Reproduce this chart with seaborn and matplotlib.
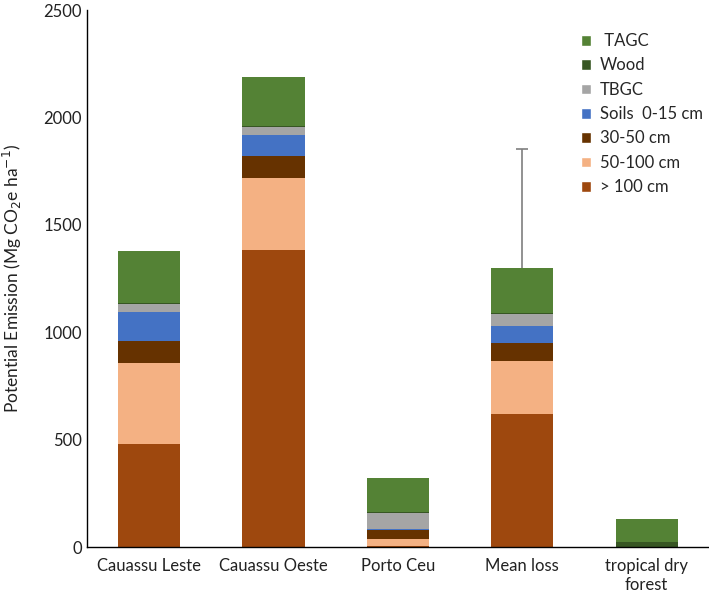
import numpy as np
import pandas as pd
import matplotlib
matplotlib.use("Agg")
import matplotlib.pyplot as plt
import seaborn as sns
from matplotlib.patches import Patch

categories = ["Cauassu Leste", "Cauassu Oeste", "Porto Ceu", "Mean loss", "tropical dry\nforest"]
layers = ["> 100 cm", "50-100 cm", "30-50 cm", "Soils  0-15 cm", "TBGC", "Wood", " TAGC"]
colors = ["#9E480E", "#F4B183", "#663200", "#4472C4", "#A5A5A5", "#375623", "#548235"]

gt100 = [479, 1385, 5, 618, 0]
d50_100 = [379, 333, 32, 249, 0]
d30_50 = [101, 102, 40, 81, 0]
soils0_15 = [136, 97, 7, 81, 0]
tbgc = [36, 40, 76, 54, 0]
wood = [5, 5, 3, 5, 25]
tagc = [240, 228, 157, 212, 104]
mean_loss_err = 555

values = [gt100, d50_100, d30_50, soils0_15, tbgc, wood, tagc]

sns.set_theme(style="white")
plt.rcParams["font.family"] = ["Lato", "DejaVu Sans"]

fig = plt.figure(figsize=(7.09, 5.92), dpi=100)
ax = fig.add_axes([0.1227, 0.076, 0.877, 0.907])

cum = np.cumsum(np.array(values, dtype=float), axis=0)

# error bar on mean loss (upper only)
mi = categories.index("Mean loss")
eb = ax.errorbar(mi, cum[-1][mi], yerr=[[0], [mean_loss_err]], fmt="none",
                 ecolor="#7f7f7f", elinewidth=1.2, capsize=4, capthick=1.2, zorder=1)
for cl in eb[1]:
    if np.allclose(cl.get_ydata(), cum[-1][mi]):
        cl.set_visible(False)

for i in range(len(layers) - 1, -1, -1):
    df = pd.DataFrame({"cat": categories, "val": cum[i]})
    sns.barplot(data=df, x="cat", y="val", color=colors[i], saturation=1,
                width=0.5, ax=ax, zorder=2, order=categories,
                linewidth=0, edgecolor="none")

ax.set_ylim(0, 2500)
ax.set_xlim(-0.5, 4.5)
ax.set_yticks([0, 500, 1000, 1500, 2000, 2500])
ax.set_xlabel("")
ax.set_ylabel("Potential Emission (Mg CO$_2$e ha$^{-1}$)", fontsize=12.5, color="#222222", labelpad=14)
ax.tick_params(axis="both", labelsize=12, colors="#222222", length=0)
ax.tick_params(axis="x", pad=8)
for s in ["top", "right"]:
    ax.spines[s].set_visible(False)
ax.spines["left"].set_color("black")
ax.spines["bottom"].set_color("black")
ax.spines["left"].set_linewidth(1.0)
ax.spines["bottom"].set_linewidth(1.0)

handles = [Patch(facecolor=colors[i], label=layers[i]) for i in range(len(layers) - 1, -1, -1)]
ax.legend(handles=handles, loc="upper left", bbox_to_anchor=(0.77, 0.985), frameon=False,
          fontsize=12, handlelength=0.6, handleheight=0.6, labelspacing=0.5, handletextpad=0.55)

fig.savefig("out.png", dpi=100)
